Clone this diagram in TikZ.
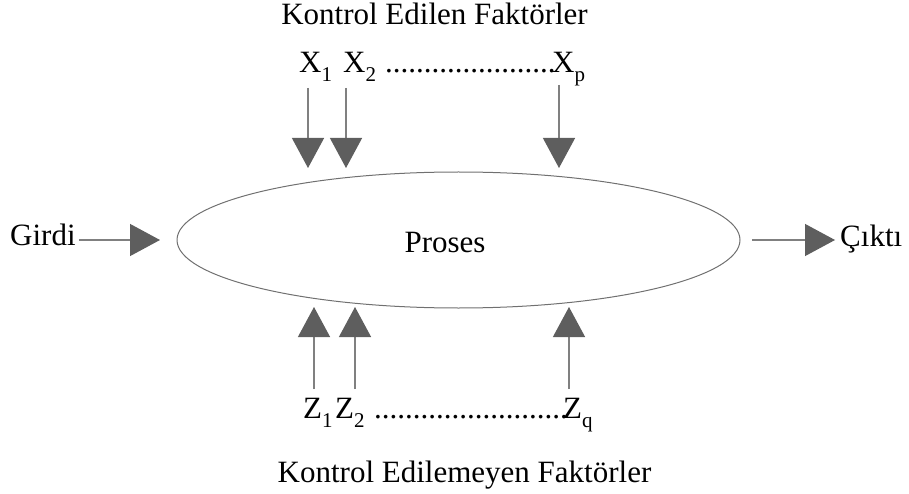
\documentclass[tikz,border=0pt]{standalone}
\usepackage{fontspec}
\setmainfont{Liberation Serif}
\usetikzlibrary{arrows.meta,shapes.geometric}
\definecolor{linegray}{HTML}{808080}
\definecolor{headgray}{HTML}{5E5E5E}
\definecolor{rimgray}{HTML}{707070}
% lowered index after a factor letter
\newcommand{\idx}[1]{\raisebox{-9pt}{\fontsize{21}{21}\selectfont #1}}
\begin{document}
\begin{tikzpicture}[x=1pt,y=-1pt,
  lbl/.style={inner sep=0pt,font=\fontsize{31}{36}\selectfont},
  flow/.style={draw=linegray,line width=1.3pt,
    -{Triangle[length=30pt,width=32pt,color=headgray]}}]
\useasboundingbox (0,0) rectangle (909,494);

% process
\node[draw=rimgray,line width=1pt,ellipse,minimum width=563pt,
      minimum height=136pt,inner sep=0pt] (proc) at (458.5,240) {};
\node[lbl,anchor=base] (proses) at (445,252) {Proses};

% input and output
\node[lbl,anchor=base west] (girdi) at (10,245) {Girdi};
\node[lbl,anchor=base west] (cikti) at (840,247) {Çıktı};
\coordinate (in0) at (79,240);  \coordinate (in1) at (160,240);
\coordinate (out0) at (752,240); \coordinate (out1) at (835,240);
\draw[flow] (in0) -- (in1);
\draw[flow] (out0) -- (out1);

% controlled factors
\node[lbl,anchor=base] (ctitle) at (434.5,25) {Kontrol Edilen Faktörler};
\node[lbl,anchor=base west] (x1) at (299,73) {X\idx{1}};
\node[lbl,anchor=base west] (x2) at (343,73) {X\idx{2}};
\node[lbl,anchor=base west] (xdots) at (385,73) {......................};
\node[lbl,anchor=base west] (xp) at (552,73) {X\idx{p}};
\coordinate (x1a) at (308,88);  \coordinate (x1b) at (308,168);
\coordinate (x2a) at (346,88);  \coordinate (x2b) at (346,168);
\coordinate (xpa) at (559,85);  \coordinate (xpb) at (559,168);
\draw[flow] (x1a) -- (x1b);
\draw[flow] (x2a) -- (x2b);
\draw[flow] (xpa) -- (xpb);

% uncontrolled factors
\node[lbl,anchor=base] (utitle) at (464.5,482) {Kontrol Edilemeyen Faktörler};
\node[lbl,anchor=base west] (z1) at (303,418) {Z\idx{1}};
\node[lbl,anchor=base west] (z2) at (335,418) {Z\idx{2}};
\node[lbl,anchor=base west] (zdots) at (374,418) {.........................};
\node[lbl,anchor=base west] (zq) at (563,418) {Z\idx{q}};
\coordinate (z1a) at (314,389); \coordinate (z1b) at (314,307);
\coordinate (z2a) at (355,389); \coordinate (z2b) at (355,307);
\coordinate (zqa) at (569,389); \coordinate (zqb) at (569,307);
\draw[flow] (z1a) -- (z1b);
\draw[flow] (z2a) -- (z2b);
\draw[flow] (zqa) -- (zqb);
\end{tikzpicture}
\end{document}
